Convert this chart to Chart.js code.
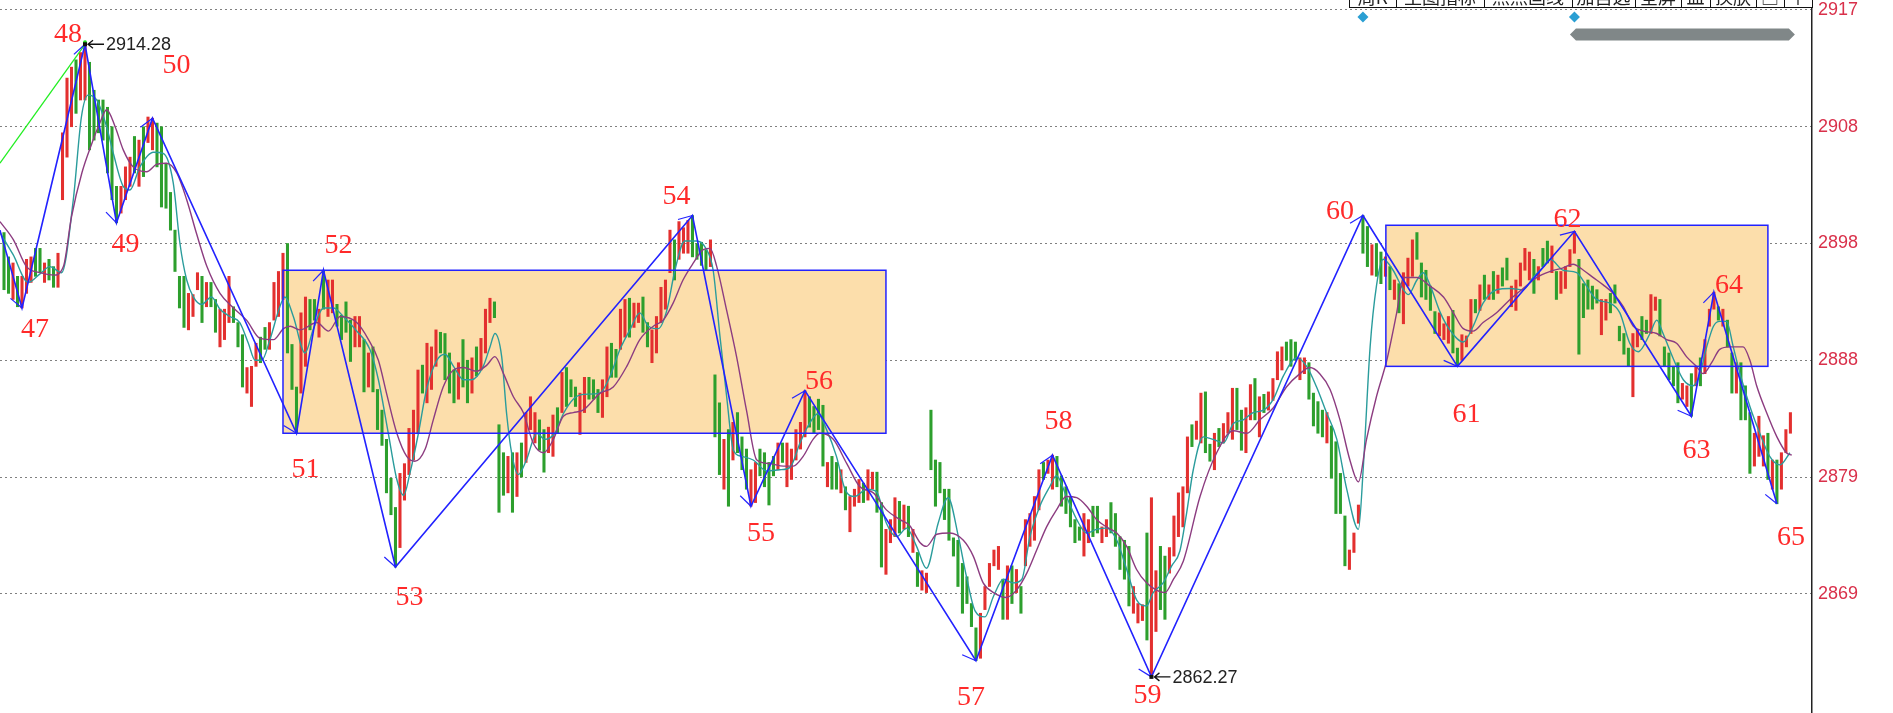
<!DOCTYPE html>
<html>
<head>
<meta charset="utf-8">
<script src="https://cdn.jsdelivr.net/npm/chart.js@4.4.0/dist/chart.umd.min.js"></script>
<style>
  html, body { margin: 0; padding: 0; background: #fff; overflow: hidden; }
  canvas { display: block; }
</style>
</head>
<body>
<canvas id="kline" width="1893" height="713"></canvas>
<script>
// 價格刻度
const tickVals = [2917.1, 2907.5, 2897.9, 2888.3, 2878.7, 2869.1];
const tickLabels = ['2917', '2908', '2898', '2888', '2879', '2869'];

// K線（每根的最低/最高），r=陽線 g=陰線
const barLow = [
  2894.1, 2893.8, 2893.3, 2892.7, 2892.6, 2893.8, 2894.7, 2895.2, 2895.5, 2894.7,
  2894.9, 2894.3, 2894.3, 2901.5, 2905.0, 2907.5, 2908.6, 2909.7, 2909.7, 2905.6,
  2906.4, 2907.0, 2906.4, 2903.7, 2901.5, 2899.6, 2900.4, 2901.5, 2902.6, 2903.7,
  2902.6, 2903.4, 2906.2, 2905.6, 2904.2, 2900.9, 2900.8, 2899.0, 2895.6, 2892.6,
  2891.0, 2890.8, 2891.9, 2894.1, 2891.4, 2892.7, 2892.7, 2890.6, 2889.4, 2890.0,
  2891.4, 2891.4, 2889.4, 2886.1, 2885.6, 2884.5, 2887.8, 2888.1, 2889.2, 2889.2,
  2891.6, 2891.9, 2893.3, 2888.9, 2885.9, 2882.3, 2885.6, 2887.8, 2890.8, 2891.6,
  2890.2, 2892.5, 2891.9, 2892.2, 2891.1, 2890.0, 2890.6, 2888.2, 2889.4, 2889.4,
  2885.7, 2886.1, 2885.7, 2882.6, 2881.3, 2877.4, 2875.6, 2871.3, 2872.9, 2876.8,
  2878.9, 2880.1, 2882.3, 2885.6, 2884.8, 2885.9, 2887.8, 2888.9, 2886.7, 2885.6,
  2884.8, 2885.1, 2886.1, 2884.8, 2885.6, 2887.0, 2887.5, 2888.9, 2891.4, 2891.8,
  2875.8, 2877.2, 2877.4, 2875.8, 2877.1, 2878.7, 2879.9, 2882.6, 2881.5, 2880.9,
  2879.1, 2880.7, 2880.4, 2882.3, 2884.0, 2884.5, 2885.3, 2884.5, 2882.2, 2884.0,
  2885.1, 2885.1, 2884.0, 2883.6, 2885.3, 2886.9, 2886.9, 2889.2, 2890.2, 2890.2,
  2891.0, 2891.4, 2890.6, 2889.4, 2888.1, 2888.9, 2891.4, 2892.5, 2895.5, 2894.9,
  2896.6, 2897.1, 2897.1, 2896.8, 2896.6, 2896.1, 2895.7, 2896.0, 2882.0, 2878.9,
  2877.7, 2876.3, 2880.1, 2880.7, 2879.3, 2877.7, 2876.3, 2876.6, 2878.8, 2877.9,
  2876.4, 2878.8, 2879.3, 2879.9, 2877.9, 2878.5, 2880.1, 2881.0, 2882.0, 2882.8,
  2882.3, 2882.6, 2879.6, 2877.9, 2877.7, 2877.7, 2877.4, 2876.0, 2874.2, 2876.3,
  2876.6, 2876.6, 2876.8, 2877.7, 2875.8, 2871.3, 2870.7, 2873.3, 2873.8, 2874.1,
  2874.4, 2873.8, 2872.5, 2869.7, 2869.4, 2869.2, 2879.3, 2876.3, 2877.4, 2875.2,
  2873.5, 2872.2, 2869.7, 2867.5, 2868.3, 2866.4, 2863.6, 2863.8, 2867.8, 2869.7,
  2871.4, 2871.1, 2867.0, 2867.0, 2868.3, 2869.2, 2867.5, 2871.4, 2873.0, 2873.5,
  2876.0, 2878.5, 2879.0, 2877.7, 2877.9, 2876.3, 2875.7, 2874.6, 2873.3, 2873.5,
  2872.2, 2873.3, 2873.8, 2874.1, 2873.3, 2873.8, 2874.1, 2873.0, 2871.1, 2870.3,
  2868.1, 2867.5, 2866.7, 2866.9, 2865.3, 2862.27, 2866.0, 2867.8, 2867.0, 2870.8,
  2872.2, 2873.8, 2874.6, 2877.4, 2881.2, 2881.8, 2881.5, 2880.7, 2880.0, 2879.3,
  2881.2, 2881.5, 2882.3, 2881.8, 2882.6, 2880.9, 2880.7, 2883.4, 2883.4, 2882.0,
  2884.0, 2884.2, 2885.0, 2886.7, 2887.5, 2888.3, 2887.8, 2888.3, 2886.7, 2887.2,
  2885.1, 2882.9, 2882.3, 2882.0, 2881.5, 2878.6, 2875.7, 2875.7, 2871.4, 2871.1,
  2872.5, 2874.9, 2897.1, 2896.0, 2895.3, 2895.2, 2894.6, 2895.2, 2894.1, 2893.3,
  2892.2, 2891.3, 2894.4, 2895.2, 2896.6, 2893.5, 2893.3, 2892.4, 2890.5, 2890.3,
  2890.0, 2889.7, 2888.9, 2887.8, 2888.3, 2889.4, 2890.5, 2892.2, 2892.4, 2893.3,
  2893.3, 2893.3, 2893.8, 2894.4, 2894.9, 2892.7, 2892.4, 2894.4, 2895.7, 2894.9,
  2893.8, 2894.9, 2896.0, 2896.3, 2895.5, 2893.3, 2893.8, 2894.2, 2896.0, 2897.1,
  2888.8, 2891.8, 2892.5, 2892.5, 2893.0, 2890.4, 2891.6, 2892.2, 2893.0, 2889.9,
  2888.8, 2887.8, 2885.3, 2889.4, 2890.0, 2890.5, 2890.5, 2892.4, 2890.3, 2887.8,
  2886.7, 2886.2, 2884.8, 2885.1, 2884.5, 2883.7, 2886.2, 2886.2, 2887.2, 2891.1,
  2892.5, 2891.6, 2891.1, 2889.4, 2885.6, 2885.6, 2883.4, 2883.4, 2879.0, 2879.6,
  2880.4, 2879.6, 2878.5, 2877.7, 2876.5, 2877.7, 2880.7, 2882.3
];
const barHigh = [
  2898.8, 2896.8, 2896.3, 2895.2, 2895.2, 2896.6, 2896.8, 2897.5, 2897.5, 2896.3,
  2896.6, 2896.0, 2897.1, 2907.0, 2911.5, 2912.4, 2913.0, 2913.6, 2914.28, 2912.8,
  2910.5, 2909.7, 2909.7, 2909.1, 2907.5, 2902.6, 2902.6, 2904.2, 2905.0, 2906.7,
  2906.4, 2907.5, 2908.3, 2908.2, 2907.8, 2907.5, 2904.5, 2902.1, 2899.0, 2895.2,
  2895.2, 2893.8, 2893.7, 2895.5, 2895.2, 2894.7, 2894.7, 2893.3, 2892.5, 2892.5,
  2895.2, 2892.7, 2891.4, 2890.4, 2887.7, 2887.8, 2889.7, 2890.2, 2891.0, 2891.4,
  2894.7, 2895.6, 2897.1, 2897.9, 2889.6, 2886.1, 2892.2, 2893.5, 2893.3, 2893.3,
  2892.5, 2895.7, 2894.9, 2894.9, 2892.9, 2892.0, 2893.1, 2891.6, 2891.9, 2891.9,
  2890.0, 2888.9, 2889.4, 2885.9, 2884.2, 2881.8, 2878.6, 2876.2, 2879.0, 2879.8,
  2882.7, 2884.2, 2887.5, 2887.9, 2889.7, 2889.4, 2890.8, 2890.6, 2890.5, 2888.9,
  2887.5, 2888.1, 2890.0, 2888.3, 2888.5, 2889.4, 2890.1, 2892.5, 2893.4, 2893.1,
  2883.0, 2880.7, 2880.4, 2880.7, 2880.7, 2881.5, 2884.0, 2885.3, 2884.0, 2883.4,
  2882.6, 2882.8, 2883.8, 2884.4, 2887.3, 2887.7, 2886.7, 2886.1, 2885.6, 2886.9,
  2886.9, 2886.7, 2885.9, 2886.7, 2889.4, 2889.7, 2889.2, 2892.5, 2893.3, 2893.4,
  2893.0, 2893.0, 2893.5, 2891.4, 2890.8, 2891.9, 2894.3, 2894.9, 2899.0, 2898.2,
  2899.7, 2899.2, 2899.8, 2900.2, 2897.9, 2898.0, 2897.4, 2898.2, 2887.1, 2884.8,
  2881.8, 2882.6, 2883.2, 2884.0, 2882.0, 2881.0, 2879.3, 2879.9, 2881.0, 2880.7,
  2879.9, 2880.4, 2881.5, 2881.5, 2881.5, 2881.0, 2882.6, 2883.2, 2885.8, 2885.3,
  2884.5, 2885.1, 2884.6, 2879.9, 2880.4, 2879.9, 2879.3, 2877.9, 2877.1, 2877.7,
  2878.5, 2878.2, 2879.3, 2879.1, 2879.1, 2876.6, 2874.4, 2875.2, 2877.0, 2876.7,
  2876.4, 2876.3, 2874.4, 2872.5, 2871.0, 2870.8, 2884.2, 2880.1, 2879.9, 2877.7,
  2877.7, 2873.7, 2873.5, 2871.6, 2870.5, 2868.3, 2866.3, 2867.5, 2869.7, 2871.6,
  2872.7, 2873.0, 2870.3, 2871.4, 2871.4, 2871.1, 2869.7, 2875.2, 2875.7, 2877.1,
  2879.3, 2879.9, 2880.1, 2880.5, 2880.4, 2878.8, 2877.9, 2877.1, 2875.2, 2874.6,
  2875.7, 2875.2, 2876.3, 2876.3, 2874.6, 2875.2, 2876.6, 2875.7, 2873.8, 2873.5,
  2873.0, 2869.7, 2868.3, 2868.2, 2874.1, 2877.0, 2871.0, 2873.0, 2872.2, 2872.9,
  2875.5, 2877.4, 2877.9, 2882.0, 2883.0, 2883.3, 2885.6, 2885.7, 2881.4, 2882.3,
  2882.7, 2883.1, 2884.0, 2886.0, 2886.0, 2884.2, 2884.4, 2886.3, 2886.8, 2885.3,
  2885.5, 2885.7, 2886.8, 2889.0, 2889.4, 2889.8, 2890.0, 2889.8, 2888.5, 2888.5,
  2888.1, 2885.6, 2884.9, 2884.2, 2884.0, 2882.9, 2881.6, 2879.0, 2875.5, 2872.7,
  2874.1, 2876.4, 2900.2, 2899.3, 2897.8, 2897.9, 2897.2, 2896.8, 2896.0, 2894.9,
  2894.6, 2895.5, 2896.7, 2898.2, 2898.8, 2896.3, 2895.7, 2894.4, 2892.3, 2892.2,
  2891.3, 2891.9, 2892.4, 2889.3, 2890.4, 2890.3, 2893.3, 2893.3, 2894.5, 2895.3,
  2894.5, 2895.6, 2895.3, 2895.9, 2896.7, 2894.4, 2894.9, 2896.3, 2897.5, 2897.2,
  2896.6, 2896.0, 2897.5, 2898.1, 2897.7, 2895.6, 2895.6, 2896.0, 2897.4, 2898.9,
  2896.6, 2894.6, 2894.9, 2894.4, 2894.1, 2893.3, 2893.3, 2893.8, 2894.5, 2891.1,
  2890.5, 2889.3, 2890.5, 2890.8, 2891.9, 2891.6, 2893.7, 2893.5, 2893.3, 2889.4,
  2888.9, 2887.8, 2888.1, 2886.4, 2886.2, 2887.2, 2887.8, 2888.5, 2890.0, 2892.5,
  2893.9, 2892.7, 2892.5, 2891.6, 2888.9, 2888.1, 2888.1, 2886.2, 2884.0, 2882.3,
  2883.7, 2882.1, 2882.3, 2880.1, 2880.1, 2880.7, 2882.6, 2884.0
];
const barDir = [
  'ggrgrrrggr', 'ggrrrrgrrg', 'ggggggrrrg', 'rgrrgggggg', 'grrrgrggrr',
  'rgggrrrggr', 'rrrgggrrgg', 'rgrrggggrr', 'grggggggrr', 'rrrgrrrggg',
  'grggrgrrrg', 'ggrgrgrrrg', 'grrgrgggrr', 'gggrrggrrg', 'rrggrrrrrg',
  'rrrggggrgg', 'rgrgggrrgg', 'ggrgrrrrrg', 'gggrggrgrr', 'rgrrggrrrg',
  'rgrgrrgggg', 'gggggggrrr', 'rrgrgrgrrr', 'rgrrgggggg', 'rrggrrgggg',
  'grrrgrrggr', 'rrrrgrrggr', 'grrrggrrgr', 'grrrrgggrr', 'ggggrggggr',
  'rrggrggrgr', 'grrrgggggr', 'rrggrrrgrg', 'rgrggrrrrr', 'grggrgrrrr',
  'gggggrrggg', 'ggrrggrrgg', 'gggrrgrgrr', 'rgrggrgggr', 'rrgrgrrr'
].join('');

// 均線（[K線序號, 價格]）
const maFast = [
  [-0.9,2898.8],[2.0,2897.0],[5.4,2894.7],[8.0,2895.4],[10.2,2896.0],[12.8,2895.5],[15.4,2901.5],[17.2,2908.3],
  [18.7,2910.1],[20.6,2909.7],[22.8,2907.5],[24.3,2905.3],[26.5,2902.6],[28.0,2902.3],[30.2,2904.2],[33.2,2905.4],
  [35.4,2905.3],[37.6,2902.9],[39.1,2897.9],[40.6,2894.9],[42.1,2893.5],[43.9,2892.9],[46.1,2893.5],[48.0,2892.5],
  [50.2,2891.9],[52.4,2891.4],[54.3,2889.7],[55.8,2888.3],[57.3,2888.3],[59.1,2890.0],[61.3,2892.7],[62.4,2893.5],
  [64.3,2891.9],[66.9,2888.9],[68.7,2890.8],[71.0,2892.6],[73.2,2892.6],[75.4,2891.9],[78.4,2890.7],[81.3,2889.2],
  [83.2,2886.7],[85.4,2882.3],[87.3,2878.5],[88.8,2877.2],[90.2,2879.0],[92.1,2882.3],[93.9,2885.9],[96.2,2888.3],
  [98.0,2888.8],[99.9,2887.8],[102.1,2886.7],[103.9,2886.7],[106.5,2887.8],[108.0,2889.4],[109.1,2890.5],[110.6,2888.6],
  [111.7,2883.9],[112.8,2880.7],[114.3,2878.9],[116.1,2880.1],[118.4,2882.3],[120.2,2881.8],[122.4,2882.3],[124.3,2883.9],
  [126.5,2885.1],[128.7,2885.5],[132.4,2885.6],[134.7,2887.0],[136.9,2889.2],[139.1,2890.8],[141.3,2892.2],[143.2,2891.1],
  [145.4,2890.9],[147.3,2892.4],[149.1,2895.7],[151.3,2898.1],[153.9,2898.1],[155.8,2897.6],[157.6,2895.7],[159.1,2890.3],
  [160.6,2885.3],[162.1,2880.9],[163.9,2880.4],[166.5,2880.1],[169.5,2879.2],[172.4,2879.3],[174.7,2879.5],[176.9,2881.5],
  [178.7,2882.9],[180.9,2883.9],[182.8,2882.6],[185.0,2880.4],[186.9,2877.7],[189.1,2877.1],[191.7,2877.7],[193.9,2877.5],
  [196.1,2874.9],[198.4,2873.8],[200.6,2874.5],[202.8,2873.0],[205.0,2871.2],[207.6,2874.9],[209.8,2877.0],[212.1,2873.8],
  [213.9,2870.5],[215.8,2867.7],[218.0,2867.2],[219.9,2868.9],[222.1,2870.3],[224.3,2870.0],[226.2,2870.3],[228.0,2873.8],
  [230.2,2876.3],[232.4,2877.9],[233.9,2878.8],[236.1,2877.1],[238.4,2875.2],[240.6,2874.1],[242.8,2874.4],[245.0,2874.5],
  [247.3,2873.5],[249.5,2871.1],[251.7,2868.6],[253.9,2868.1],[255.4,2869.2],[257.6,2870.0],[259.5,2871.4],[261.3,2872.6],
  [262.8,2875.7],[264.3,2879.3],[266.5,2882.0],[268.7,2881.8],[271.0,2881.5],[273.2,2883.1],[275.4,2883.4],[277.6,2884.0],
  [279.9,2884.2],[282.1,2885.1],[284.3,2887.0],[287.3,2888.5],[289.5,2887.8],[291.7,2886.1],[293.9,2884.0],[296.2,2881.8],
  [298.4,2877.7],[301.0,2874.4],[302.1,2879.6],[303.6,2889.4],[305.0,2894.4],[306.5,2896.6],[308.7,2895.7],[311.0,2894.1],
  [312.1,2893.7],[314.0,2894.9],[315.4,2895.5],[316.9,2894.5],[319.1,2892.3],[321.3,2890.8],[324.3,2889.8],[326.5,2891.1],
  [328.7,2893.0],[331.7,2894.1],[334.7,2894.2],[337.6,2894.1],[339.8,2895.1],[342.1,2896.0],[343.6,2896.6],[346.5,2895.7],
  [349.5,2895.5],[351.7,2894.4],[353.9,2893.3],[356.9,2893.0],[359.1,2892.2],[361.3,2889.7],[363.2,2889.0],[365.8,2890.5],
  [367.3,2891.6],[368.7,2890.5],[371.0,2888.4],[373.2,2886.7],[375.4,2886.2],[376.9,2887.2],[378.4,2889.4],[379.9,2891.1],
  [381.3,2891.5],[382.8,2891.5],[384.3,2889.4],[385.8,2887.2],[388.0,2884.5],[390.2,2882.3],[392.4,2880.4],[394.7,2879.7],
  [396.9,2880.7]
];
const maSlow = [
  [-0.9,2899.7],[2.1,2898.2],[5.0,2896.0],[8.0,2895.5],[11.0,2895.3],[13.2,2896.0],[15.0,2900.1],[17.3,2903.7],
  [19.5,2906.1],[21.3,2907.8],[22.8,2908.9],[24.7,2907.5],[26.5,2905.6],[28.7,2904.2],[31.7,2903.8],[33.9,2904.4],
  [36.1,2904.5],[38.4,2903.7],[40.6,2901.5],[42.8,2898.7],[45.1,2896.0],[48.0,2893.8],[51.0,2892.6],[53.9,2891.6],
  [56.9,2890.1],[59.9,2890.0],[62.1,2890.9],[63.6,2891.1],[65.8,2890.8],[69.5,2891.4],[72.1,2890.7],[74.7,2891.9],
  [78.4,2891.4],[81.0,2890.0],[83.2,2888.3],[85.0,2885.6],[87.3,2882.3],[89.5,2880.4],[91.3,2880.0],[93.6,2881.0],
  [95.4,2883.4],[97.6,2886.1],[99.9,2887.5],[102.1,2887.7],[105.0,2887.4],[107.3,2887.9],[109.1,2888.6],[111.0,2887.2],
  [113.2,2885.3],[115.4,2884.0],[117.6,2881.5],[119.9,2880.7],[122.1,2881.8],[124.3,2883.7],[126.5,2884.0],[128.7,2884.2],
  [132.5,2885.6],[135.4,2886.1],[138.4,2887.8],[141.3,2890.0],[144.3,2891.1],[146.5,2891.6],[148.7,2893.0],[150.9,2894.9],
  [153.2,2896.3],[155.4,2897.4],[156.9,2897.5],[158.4,2896.0],[160.6,2892.4],[162.8,2888.6],[165.0,2884.2],[167.3,2880.1],
  [170.2,2879.8],[173.2,2879.6],[175.4,2879.6],[177.6,2880.4],[179.8,2881.8],[181.3,2882.3],[184.3,2881.8],[187.3,2879.8],
  [190.2,2877.9],[193.2,2877.4],[196.1,2876.0],[199.1,2875.2],[201.3,2874.7],[203.6,2873.3],[205.0,2873.0],[207.3,2874.0],
  [210.2,2874.1],[213.2,2873.5],[215.4,2872.2],[217.6,2870.0],[219.9,2869.2],[222.8,2868.8],[225.0,2869.4],[227.3,2870.8],
  [229.5,2872.7],[231.7,2874.6],[233.9,2876.0],[236.1,2877.1],[238.4,2877.0],[240.6,2876.3],[242.8,2875.2],[245.0,2874.6],
  [247.3,2874.1],[249.5,2873.0],[251.7,2871.1],[253.9,2870.0],[256.1,2869.4],[258.0,2869.2],[259.9,2870.3],[262.1,2871.8],
  [265.8,2877.1],[269.5,2880.7],[273.2,2882.5],[276.2,2882.3],[279.1,2883.4],[282.1,2884.4],[285.0,2886.1],[288.0,2887.2],
  [290.2,2887.7],[292.4,2887.2],[294.7,2885.9],[296.9,2883.4],[299.1,2880.1],[301.0,2878.3],[302.8,2881.8],[305.0,2885.3],
  [307.3,2888.3],[309.5,2892.2],[311.0,2895.1],[314.0,2895.1],[316.9,2894.4],[319.9,2893.5],[322.1,2892.2],[324.3,2890.9],
  [326.5,2890.7],[328.7,2891.4],[331.7,2892.2],[334.7,2893.3],[337.6,2894.2],[340.6,2895.1],[343.6,2895.6],[346.5,2895.9],
  [348.7,2896.2],[351.0,2895.7],[353.2,2895.1],[355.4,2894.5],[357.6,2893.8],[359.9,2892.7],[362.1,2891.1],[364.3,2890.7],
  [367.3,2890.5],[369.5,2890.0],[371.7,2889.7],[373.9,2888.6],[376.1,2887.8],[377.6,2887.2],[379.5,2888.1],[381.3,2889.2],
  [383.6,2889.4],[386.5,2889.4],[388.0,2888.3],[389.5,2886.2],[391.7,2884.0],[394.0,2882.0],[396.1,2880.7],[397.3,2880.5]
];

// 波浪轉折點
const zigStart = [-0.9, 2899.0];
const pivotIdx = [4, 18, 25, 33, 65, 71, 87, 153, 166, 178, 216, 233, 255, 302, 323, 349, 375, 380, 394];
const pivotVal = [2892.6, 2914.28, 2899.6, 2908.2, 2882.3, 2895.7, 2871.3, 2900.2, 2876.3, 2885.8,
                  2863.6, 2880.5, 2862.27, 2900.2, 2887.8, 2898.9, 2883.7, 2893.9, 2876.5];
const pivotName = ['47', '48', '49', '50', '51', '52', '53', '54', '55', '56',
                   '57', '58', '59', '60', '61', '62', '63', '64', '65'];
const trendLine = [[-0.9, 2904.5], [18, 2914.28]];

// 箱體
const boxLeft = [62, 307.1];
const boxRight = [196, 392];
const boxTop = [2895.7, 2899.4];
const boxBottom = [2882.3, 2887.8];

// 極值標註
const noteIdx = [18, 255];
const noteVal = [2914.28, 2862.27];

// 頂部標記
const diamondIdx = [302, 349];
const bandFrom = 348, bandTo = 398;
const toolbarText = ['周K', '主图指标', '点点画线', '加自选', '全屏', '皿', '换肤', '□', '↑'];

// 以下為樣式設定（位置偏移、尺寸）
const labelOffset = [[13, 22], [-17, -10], [9, 22], [24, -53], [9, 36], [15, -25], [14, 31], [-16, -19], [10, 27], [14, -9],
                     [-5, 37], [6, -34], [-4, 19], [-23, -4], [9, 48], [-7, -12], [5, 34], [15, -7], [14, 34]];
const toolbarWidths = [47, 88, 88, 63, 46, 29, 46, 28, 28];

const BLUE = '#2222ff';

const overlay = {
  id: 'overlay',
  beforeDatasetsDraw(chart) {
    const { ctx, scales: { x, y } } = chart;
    ctx.save();
    ctx.fillStyle = '#fcdeab';
    boxLeft.forEach((l, k) => {
      const x0 = x.getPixelForValue(l), x1 = x.getPixelForValue(boxRight[k]);
      const y0 = y.getPixelForValue(boxTop[k]), y1 = y.getPixelForValue(boxBottom[k]);
      ctx.fillRect(x0, y0, x1 - x0, y1 - y0);
    });
    ctx.restore();
  },
  afterDatasetsDraw(chart) {
    const { ctx, scales: { x, y } } = chart;
    ctx.save();
    // 箱體邊框
    ctx.strokeStyle = BLUE;
    ctx.lineWidth = 1.5;
    boxLeft.forEach((l, k) => {
      const x0 = x.getPixelForValue(l), x1 = x.getPixelForValue(boxRight[k]);
      const y0 = y.getPixelForValue(boxTop[k]), y1 = y.getPixelForValue(boxBottom[k]);
      ctx.strokeRect(x0, y0, x1 - x0, y1 - y0);
    });

    // 轉折點箭頭
    const pts = [zigStart].concat(pivotIdx.map((p, k) => [p, pivotVal[k]]));
    ctx.lineWidth = 1.2;
    for (let k = 1; k < pts.length; k++) {
      const ax = x.getPixelForValue(pts[k - 1][0]), ay = y.getPixelForValue(pts[k - 1][1]);
      const bx = x.getPixelForValue(pts[k][0]), by = y.getPixelForValue(pts[k][1]);
      const a = Math.atan2(by - ay, bx - ax);
      const b = by > ay ? a - 0.6 : a + 0.6;
      ctx.beginPath();
      ctx.moveTo(bx, by);
      ctx.lineTo(bx - 15 * Math.cos(b), by - 15 * Math.sin(b));
      ctx.stroke();
    }

    // 綠色趨勢線端點
    ctx.fillStyle = '#22dd22';
    ctx.beginPath();
    ctx.arc(x.getPixelForValue(trendLine[1][0]), y.getPixelForValue(trendLine[1][1]) - 2, 2, 0, Math.PI * 2);
    ctx.fill();

    // 編號
    ctx.fillStyle = '#ff2a2a';
    ctx.font = '28px "Liberation Serif", "Times New Roman", serif';
    ctx.textAlign = 'center';
    ctx.textBaseline = 'middle';
    pivotName.forEach((name, k) => {
      const px = x.getPixelForValue(pivotIdx[k]) + labelOffset[k][0];
      const py = y.getPixelForValue(pivotVal[k]) + labelOffset[k][1];
      ctx.fillText(name, px, py);
    });

    // 最高/最低價標註
    ctx.font = '18px "Liberation Sans", Arial, sans-serif';
    ctx.textAlign = 'left';
    noteIdx.forEach((ni, k) => {
      const px = x.getPixelForValue(ni), py = y.getPixelForValue(noteVal[k]);
      ctx.fillStyle = '#111';
      ctx.fillRect(px - 2, py - 2, 4, 4);
      ctx.strokeStyle = '#111';
      ctx.lineWidth = 1.3;
      ctx.beginPath();
      ctx.moveTo(px + 3, py);
      ctx.lineTo(px + 19, py);
      ctx.moveTo(px + 8, py - 4);
      ctx.lineTo(px + 3, py);
      ctx.lineTo(px + 8, py + 4);
      ctx.stroke();
      ctx.fillStyle = '#222';
      ctx.fillText(noteVal[k].toFixed(2), px + 21, py + 1);
    });
    ctx.restore();
  },
  afterDraw(chart) {
    const { ctx, chartArea, scales: { x } } = chart;
    ctx.save();
    // 頂部工具列（被裁切）
    let left = chartArea.right - toolbarWidths.reduce((s, w) => s + w, 0);
    ctx.font = '18px "Noto Sans CJK SC", sans-serif';
    ctx.textAlign = 'center';
    ctx.textBaseline = 'alphabetic';
    toolbarWidths.forEach((w, k) => {
      ctx.fillStyle = '#fff';
      ctx.fillRect(left, -10, w, 17.5);
      ctx.strokeStyle = '#111';
      ctx.lineWidth = 1;
      ctx.strokeRect(left + 0.5, -10, w, 17.5);
      ctx.save();
      ctx.beginPath();
      ctx.rect(left + 2, 0, w - 4, 6);
      ctx.clip();
      ctx.fillStyle = '#222';
      ctx.fillText(toolbarText[k], left + w / 2, 3.5);
      ctx.restore();
      left += w;
    });

    // 藍色菱形
    ctx.fillStyle = '#2a9fd3';
    diamondIdx.forEach(d => {
      const px = x.getPixelForValue(d), py = 17;
      ctx.beginPath();
      ctx.moveTo(px, py - 5.5);
      ctx.lineTo(px + 5.5, py);
      ctx.lineTo(px, py + 5.5);
      ctx.lineTo(px - 5.5, py);
      ctx.closePath();
      ctx.fill();
    });

    // 灰色雙箭頭條
    const x0 = x.getPixelForValue(bandFrom), x1 = x.getPixelForValue(bandTo);
    ctx.fillStyle = '#808788';
    ctx.beginPath();
    ctx.moveTo(x0, 34.5);
    ctx.lineTo(x0 + 6, 28.5);
    ctx.lineTo(x1 - 6, 28.5);
    ctx.lineTo(x1, 34.5);
    ctx.lineTo(x1 - 6, 40.5);
    ctx.lineTo(x0 + 6, 40.5);
    ctx.closePath();
    ctx.fill();
    ctx.restore();
  }
};

new Chart(document.getElementById('kline'), {
  type: 'bar',
  data: {
    datasets: [
      {
        type: 'line',
        data: trendLine.map(p => ({ x: p[0], y: p[1] })),
        borderColor: '#22ee22',
        borderWidth: 1.3,
        pointRadius: 0,
        order: 1
      },
      {
        type: 'line',
        data: [zigStart].concat(pivotIdx.map((p, k) => [p, pivotVal[k]])).map(p => ({ x: p[0], y: p[1] })),
        borderColor: BLUE,
        borderWidth: 1.6,
        pointRadius: 0,
        order: 2
      },
      {
        type: 'line',
        data: maSlow.map(p => ({ x: p[0], y: p[1] })),
        borderColor: '#8c3c80',
        borderWidth: 1.4,
        pointRadius: 0,
        cubicInterpolationMode: 'monotone',
        order: 3
      },
      {
        type: 'line',
        data: maFast.map(p => ({ x: p[0], y: p[1] })),
        borderColor: '#2a9c9c',
        borderWidth: 1.4,
        pointRadius: 0,
        cubicInterpolationMode: 'monotone',
        order: 4
      },
      {
        type: 'bar',
        data: barLow.map((lo, i) => ({ x: i, y: [lo, barHigh[i]] })),
        backgroundColor: barLow.map((lo, i) => barDir[i] === 'r' ? '#e3302f' : '#2d9f2d'),
        barThickness: 2.4,
        grouped: false,
        order: 5
      }
    ]
  },
  options: {
    responsive: false,
    animation: false,
    devicePixelRatio: 1,
    events: [],
    layout: { padding: 0 },
    plugins: { legend: { display: false }, tooltip: { enabled: false } },
    scales: {
      x: {
        type: 'linear',
        min: -0.89,
        max: 401.8,
        offset: false,
        display: false
      },
      y: {
        position: 'right',
        min: 2859.3,
        max: 2917.92,
        afterBuildTicks: scale => { scale.ticks = tickVals.map(v => ({ value: v })); },
        afterFit: scale => {
          scale.width = 81;
          scale.paddingTop = 0;
          scale.paddingBottom = 0;
        },
        ticks: {
          padding: 6,
          color: '#d9304a',
          font: { family: '"Liberation Sans", Arial, sans-serif', size: 18 },
          callback: value => tickLabels[tickVals.indexOf(value)]
        },
        grid: {
          color: '#808080',
          lineWidth: 1,
          drawTicks: false
        },
        border: {
          display: true,
          color: '#222',
          width: 1.5,
          dash: [2, 3]
        }
      }
    }
  },
  plugins: [overlay]
});
</script>
</body>
</html>
